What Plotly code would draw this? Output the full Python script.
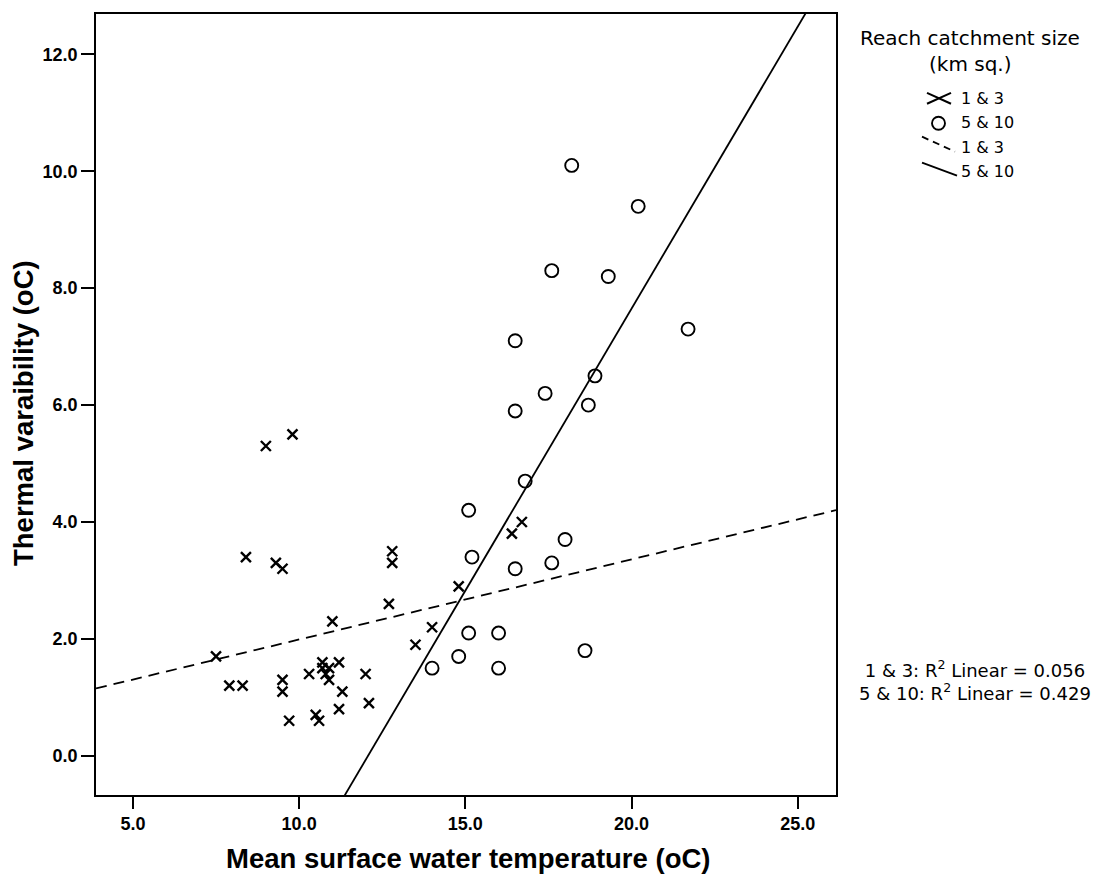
import plotly.graph_objects as go

# ---- data ----
temp_1_3 = [9.0, 9.8, 8.4, 9.3, 9.5, 12.8, 12.8, 12.7, 11.0, 7.5, 14.8, 14.0, 13.5, 16.4, 16.7,
            7.9, 8.3, 9.5, 9.5, 9.7, 10.3, 10.7, 10.7, 10.9, 10.8, 10.9, 11.2, 12.0, 11.3, 12.1,
            11.2, 10.5, 10.6]
var_1_3 = [5.3, 5.5, 3.4, 3.3, 3.2, 3.5, 3.3, 2.6, 2.3, 1.7, 2.9, 2.2, 1.9, 3.8, 4.0,
           1.2, 1.2, 1.3, 1.1, 0.6, 1.4, 1.6, 1.5, 1.5, 1.4, 1.3, 1.6, 1.4, 1.1, 0.9,
           0.8, 0.7, 0.6]
temp_5_10 = [18.2, 20.2, 17.6, 19.3, 21.7, 16.5, 18.9, 17.4, 16.5, 18.7, 16.8, 18.0, 17.6, 16.5,
             18.6, 15.1, 15.2, 15.1, 16.0, 14.8, 14.0, 16.0]
var_5_10 = [10.1, 9.4, 8.3, 8.2, 7.3, 7.1, 6.5, 6.2, 5.9, 6.0, 4.7, 3.7, 3.3, 3.2,
            1.8, 4.2, 3.4, 2.1, 2.1, 1.7, 1.5, 1.5]

group_labels = ["1 & 3", "5 & 10"]
fit_intercept = [0.62, -11.65]
fit_slope = [0.137, 0.965]
r2_values = [0.056, 0.429]

x_ticks = [5.0, 10.0, 15.0, 20.0, 25.0]
y_ticks = [0.0, 2.0, 4.0, 6.0, 8.0, 10.0, 12.0]

X_RANGE = [3.89, 26.15]
Y_RANGE = [-0.67, 12.69]

# ---- layout geometry (pixels) ----
W, H = 1106, 880
L, R, T, B = 96, 270, 12, 85
PW, PH = W - L - R, H - T - B


def px(xp):
    return (xp - L) / PW


def py(yp):
    return (H - B - yp) / PH


fig = go.Figure()

fig.add_trace(go.Scatter(
    x=temp_1_3, y=var_1_3, mode="markers", name=group_labels[0],
    marker=dict(symbol="x-thin-open", size=10, color="black",
                line=dict(color="black", width=2.4)),
    showlegend=False))
fig.add_trace(go.Scatter(
    x=temp_5_10, y=var_5_10, mode="markers", name=group_labels[1],
    marker=dict(symbol="circle-open", size=13, color="black",
                line=dict(color="black", width=1.9)),
    showlegend=False))

dashes = ["11px,7px", "solid"]
for a, b, d in zip(fit_intercept, fit_slope, dashes):
    xs = X_RANGE
    ys = [a + b * v for v in xs]
    fig.add_trace(go.Scatter(x=xs, y=ys, mode="lines",
                             line=dict(color="black", width=1.8, dash=d),
                             showlegend=False, hoverinfo="skip"))

tickfont = dict(family="Liberation Sans, Arial, sans-serif", size=18, color="black", weight="bold")
fig.update_xaxes(range=X_RANGE, tickvals=x_ticks, tickformat=".1f",
                 showgrid=False, zeroline=False, showline=True, linecolor="black",
                 linewidth=1.5, mirror=True, ticks="outside", ticklen=12, tickwidth=2,
                 tickcolor="black", tickfont=tickfont)
fig.update_yaxes(range=Y_RANGE, tickvals=y_ticks, tickformat=".1f",
                 showgrid=False, zeroline=False, showline=True, linecolor="black",
                 linewidth=1.5, mirror=True, ticks="outside", ticklen=13, tickwidth=2,
                 tickcolor="black", tickfont=tickfont)

ann = []
bold = dict(family="Liberation Sans, Arial, sans-serif", size=27.5, color="black")
ann.append(dict(text="<b>Mean surface water temperature (oC)</b>", x=px(468), y=py(859),
                xref="paper", yref="paper", showarrow=False, font=bold,
                xanchor="center", yanchor="middle"))
ann.append(dict(text="<b>Thermal varaibility (oC)</b>", x=px(24), y=py(412),
                xref="paper", yref="paper", showarrow=False, font=bold, textangle=-90,
                xanchor="center", yanchor="middle"))

lf = dict(family="DejaVu Sans, Liberation Sans, sans-serif", color="black")
ann.append(dict(text="Reach catchment size", x=px(970), y=py(36), xref="paper", yref="paper",
                showarrow=False, font=dict(size=20, **lf), xanchor="center", yanchor="middle"))
ann.append(dict(text="(km sq.)", x=px(970), y=py(62), xref="paper", yref="paper",
                showarrow=False, font=dict(size=20, **lf), xanchor="center", yanchor="middle"))
for lab, yp in zip([group_labels[0], group_labels[1], group_labels[0], group_labels[1]],
                   [97, 121, 146, 170]):
    ann.append(dict(text=lab, x=px(959), y=py(yp), xref="paper", yref="paper",
                    showarrow=False, font=dict(size=16, **lf), xanchor="left", yanchor="middle"))

r2_text = "<br>".join(f"{lab}: R<sup>2</sup> Linear = {r2:.3f}"
                      for lab, r2 in zip(group_labels, r2_values))
ann.append(dict(text=r2_text, x=px(975), y=py(680), xref="paper", yref="paper",
                showarrow=False, font=dict(size=18, **lf), align="center",
                xanchor="center", yanchor="middle"))

shapes = []
# legend X marker
shapes.append(dict(type="line", xref="paper", yref="paper", x0=px(927), y0=py(91), x1=px(951), y1=py(102),
                   line=dict(color="black", width=2)))
shapes.append(dict(type="line", xref="paper", yref="paper", x0=px(927), y0=py(102), x1=px(951), y1=py(91),
                   line=dict(color="black", width=2)))
# legend circle
shapes.append(dict(type="circle", xref="paper", yref="paper", x0=px(932), y0=py(115), x1=px(945), y1=py(128),
                   line=dict(color="black", width=1.9)))
# legend dashed line
shapes.append(dict(type="line", xref="paper", yref="paper", x0=px(922), y0=py(135), x1=px(955), y1=py(150),
                   line=dict(color="black", width=1.8, dash="7px,5px")))
# legend solid line
shapes.append(dict(type="line", xref="paper", yref="paper", x0=px(922), y0=py(161), x1=px(957), y1=py(174),
                   line=dict(color="black", width=1.8)))

fig.update_layout(width=W, height=H, margin=dict(l=L, r=R, t=T, b=B),
                  plot_bgcolor="white", paper_bgcolor="white",
                  annotations=ann, shapes=shapes, showlegend=False)

fig.write_html("out.html")
